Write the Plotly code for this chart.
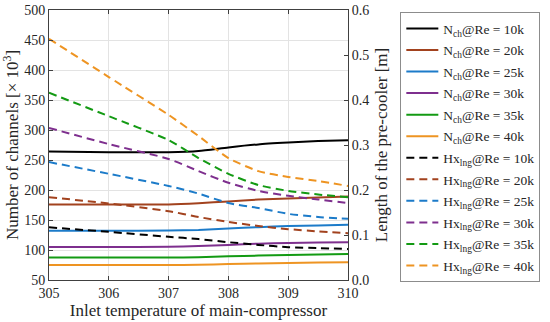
import plotly.graph_objects as go

temps = [305, 306, 307, 307.5, 308, 308.5, 309, 309.5, 310]
re_labels = ["10k", "20k", "25k", "30k", "35k", "40k"]
colors = ["#000000", "#A2421E", "#1C7BC9", "#7E2F8E", "#139A13", "#EE9422"]

# Number of channels [x 10^3] (left axis)
nch_10k = [264, 263, 263, 265, 271, 276, 279, 281.5, 283]
nch_20k = [176, 176, 176, 178, 181, 184, 186, 187.5, 189]
nch_25k = [132, 132, 132.5, 133.5, 136, 138, 140, 141, 142]
nch_30k = [105, 105, 105.5, 106.5, 108.5, 110.5, 111.7, 112.5, 113]
nch_35k = [87.5, 87.5, 87.5, 88, 89.5, 90.7, 91.7, 92.5, 93.3]
nch_40k = [75, 75, 75, 75.5, 76.5, 77.5, 78.3, 79, 79.5]

# Length of the pre-cooler [m] (right axis)
hx_10k = [0.117, 0.107, 0.096, 0.091, 0.084, 0.078, 0.073, 0.071, 0.069]
hx_20k = [0.184, 0.170, 0.153, 0.140, 0.129, 0.120, 0.113, 0.108, 0.104]
hx_25k = [0.262, 0.236, 0.209, 0.192, 0.171, 0.160, 0.147, 0.140, 0.136]
hx_30k = [0.338, 0.302, 0.269, 0.242, 0.216, 0.198, 0.187, 0.179, 0.171]
hx_35k = [0.416, 0.364, 0.311, 0.271, 0.236, 0.211, 0.198, 0.190, 0.184]
hx_40k = [0.536, 0.451, 0.367, 0.320, 0.271, 0.242, 0.229, 0.220, 0.209]

nch_all = [nch_10k, nch_20k, nch_25k, nch_30k, nch_35k, nch_40k]
hx_all = [hx_10k, hx_20k, hx_25k, hx_30k, hx_35k, hx_40k]

FONT = "Liberation Serif"

fig = go.Figure()
for lab, col, ys in zip(re_labels, colors, nch_all):
    name = f"N<sub>ch</sub>@Re = {lab}"
    fig.add_trace(go.Scatter(
        x=temps, y=ys, mode="lines", line=dict(color=col, width=2, shape="spline", smoothing=0.6),
        name=name, legendgroup=name, yaxis="y"))
for lab, col, ys in zip(re_labels, colors, hx_all):
    name = f"Hx<sub>lng</sub>@Re = {lab}"
    fig.add_trace(go.Scatter(
        x=temps, y=ys, mode="lines",
        line=dict(color=col, width=2, dash="8px,5px", shape="spline", smoothing=0.6),
        name=name, legendgroup=name, yaxis="y2"))

axis_col = "#404040"
grid_col = "#E3E3E3"
fig.update_layout(
    width=550, height=322,
    margin=dict(l=49, r=198, t=10, b=42),
    paper_bgcolor="white", plot_bgcolor="white",
    font=dict(family=FONT, size=14, color="#262626"),
    showlegend=True,
    legend=dict(x=1.175, y=0.992, xanchor="left", yanchor="top",
                bordercolor="#8C8C8C", borderwidth=1, bgcolor="white",
                font=dict(family=FONT, size=13.5, color="#262626"),
                tracegroupgap=1.0, itemwidth=32, maxheight=1.0),
    xaxis=dict(range=[305, 310], dtick=1, showgrid=True, gridcolor=grid_col,
               showline=True, linecolor=axis_col, linewidth=1, mirror="ticks",
               ticks="inside", ticklen=4, tickcolor=axis_col, zeroline=False,
               automargin=False,
               title=dict(text="Inlet temperature of main-compressor", standoff=2)),
    yaxis=dict(range=[50, 500], dtick=50, showgrid=True, gridcolor=grid_col,
               showline=True, linecolor=axis_col, linewidth=1,
               ticks="inside", ticklen=4, tickcolor=axis_col, zeroline=False,
               automargin=False,
               title=dict(text="Number of channels [× 10<sup>3</sup>]", standoff=4)),
    yaxis2=dict(range=[0, 0.6], dtick=0.1, overlaying="y", side="right",
                showgrid=False, showline=True, linecolor=axis_col, linewidth=1,
                ticks="inside", ticklen=4, tickcolor=axis_col, zeroline=False,
                tickformat=".1f", automargin=False,
                title=dict(text="Length of the pre-cooler [m]", standoff=6)),
)

fig.write_html("out.html", config={"displayModeBar": False},
               post_script="document.body.style.margin='0';document.body.style.padding='0';")
